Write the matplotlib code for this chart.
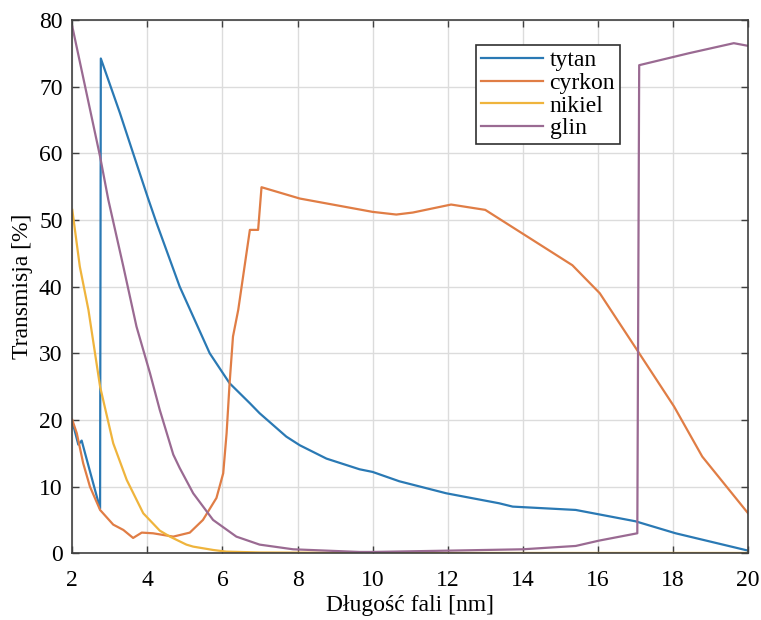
import matplotlib.pyplot as plt
import numpy as np

# Transmission curves
tytan_x = [2.0, 2.16, 2.25, 2.34, 2.74, 2.76, 3.27, 3.62, 4.02, 4.24, 4.86, 5.66,
           6.19, 6.73, 6.99, 7.7, 8.06, 8.77, 9.65, 10.0, 10.71, 11.96, 13.37,
           13.73, 15.41, 17.0, 18.07, 20.0]
tytan_y = [19.8, 16.3, 16.9, 15.0, 6.7, 74.2, 66.0, 60.0, 53.2, 49.6, 40.0, 30.0,
           25.5, 22.5, 21.0, 17.5, 16.2, 14.2, 12.6, 12.2, 10.8, 9.0, 7.5,
           7.0, 6.5, 4.8, 3.0, 0.4]

cyrkon_x = [2.0, 2.12, 2.29, 2.47, 2.74, 3.09, 3.36, 3.62, 3.85, 4.15, 4.69, 5.13,
            5.48, 5.84, 6.02, 6.11, 6.19, 6.28, 6.42, 6.73, 6.95, 7.04, 8.06,
            10.0, 10.63, 11.07, 12.09, 13.0, 15.32, 16.05, 17.1, 18.03, 18.78,
            20.0]
cyrkon_y = [20.0, 18.0, 13.5, 10.0, 6.5, 4.3, 3.5, 2.3, 3.1, 3.0, 2.5, 3.1,
            5.0, 8.3, 12.0, 18.0, 25.5, 32.5, 36.5, 48.5, 48.5, 54.9, 53.2,
            51.2, 50.8, 51.1, 52.3, 51.5, 43.2, 39.0, 30.0, 22.0, 14.5,
            6.0]

nikiel_x = [2.0, 2.2, 2.43, 2.74, 3.09, 3.45, 3.89, 4.33, 4.6, 5.04, 5.22, 5.75,
            6.1, 7.0, 10.0, 20.0]
nikiel_y = [51.5, 43.0, 36.5, 25.0, 16.5, 11.0, 6.0, 3.4, 2.5, 1.3, 1.0, 0.5,
            0.25, 0.12, 0.05, 0.05]

glin_x = [2.0, 2.74, 2.96, 3.36, 3.71, 4.07, 4.33, 4.69, 4.86, 5.22, 5.75, 6.37,
          6.99, 7.88, 9.65, 10.0, 12.05, 14.0, 15.41, 16.03, 17.05, 17.1, 18.43,
          19.62, 20.0]
glin_y = [79.0, 59.5, 53.0, 43.0, 34.0, 27.0, 21.5, 14.8, 12.8, 9.0, 5.0, 2.5,
          1.3, 0.6, 0.2, 0.2, 0.4, 0.6, 1.1, 1.9, 3.0, 73.2, 75.0,
          76.5, 76.1]

labels = ['tytan', 'cyrkon', 'nikiel', 'glin']
colors = ['#2a79b4', '#e07d45', '#efb43c', '#9a6a92']

plt.rcParams['font.family'] = ['Liberation Serif', 'DejaVu Serif']

fig = plt.figure(figsize=(7.61, 6.2), dpi=100)
ax = fig.add_axes([0.095, 0.1076, 0.888, 0.8604])

for xs, ys, lab, c in zip([tytan_x, cyrkon_x, nikiel_x, glin_x],
                          [tytan_y, cyrkon_y, nikiel_y, glin_y],
                          labels, colors):
    ax.plot(xs, ys, color=c, lw=1.6, label=lab)

ax.set_xlim(2, 20)
ax.set_ylim(0, 80)
ax.set_xticks(np.arange(2, 21, 2))
ax.set_yticks(np.arange(0, 81, 10))
ax.grid(True, color='#dcdcdc', lw=1.0)
ax.set_axisbelow(True)
ax.tick_params(direction='in', top=True, right=True, labelsize=17,
               color='#404040', length=5, width=1.0)
ax.tick_params(axis='x', pad=12)
ax.tick_params(axis='y', pad=7)
for s in ax.spines.values():
    s.set_color('#404040')
    s.set_linewidth(1.2)

ax.set_xlabel('Długość fali [nm]', fontsize=17, labelpad=3)
ax.set_ylabel('Transmisja [%]', fontsize=17, labelpad=4)

leg = ax.legend(loc='upper left', bbox_to_anchor=(0.598, 0.953), fontsize=17,
                fancybox=False, framealpha=1, edgecolor='#303030',
                handlelength=2.6, borderpad=0.2, labelspacing=0.05,
                handletextpad=0.3, borderaxespad=0)
leg.get_frame().set_linewidth(1.2)

plt.savefig('out.png', dpi=100)
